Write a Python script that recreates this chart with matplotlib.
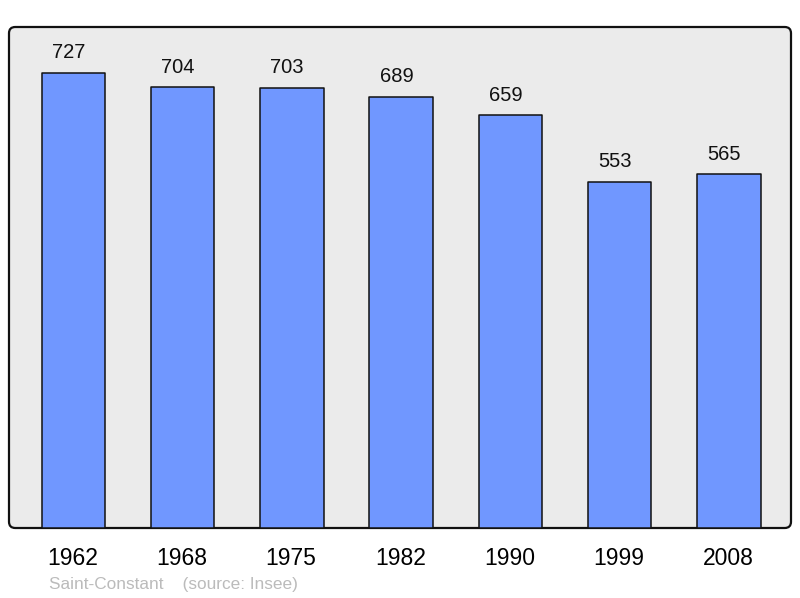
import numpy as np
import matplotlib
matplotlib.use('Agg')
import matplotlib.pyplot as plt
from matplotlib.patches import FancyBboxPatch

years = ['1962', '1968', '1975', '1982', '1990', '1999', '2008']
population = [727, 704, 703, 689, 659, 553, 565]
caption = 'Saint-Constant    (source: Insee)'

plt.rcParams['font.family'] = ['Liberation Sans', 'DejaVu Sans']

fig = plt.figure(figsize=(8, 5.98), dpi=100)
ax = fig.add_axes([9/800, 70/598, 782/800, 501/598])
ax.set_facecolor('none')

# rounded frame drawn behind everything
frame = FancyBboxPatch((0, 0), 1, 1, boxstyle='round,pad=0,rounding_size=0.008',
                       mutation_aspect=782/501, transform=ax.transAxes,
                       facecolor='#ebebeb', edgecolor='#111111', linewidth=1.6,
                       clip_on=False, zorder=0)
ax.add_patch(frame)

x = np.arange(len(years))
ax.bar(x + 0.008, population, width=0.58, color='#7097ff', edgecolor='#111111',
       linewidth=1.1, joinstyle='round', zorder=2)

for xi, v in zip(x, population):
    ax.annotate(str(v), (xi - 0.035, v), xytext=(0, 10.5), textcoords='offset points',
                ha='center', va='baseline', fontsize=14.5, color='#111111')

ax.set_xlim(-0.58, 6.575)
ax.set_ylim(0, 800)
ax.set_xticks(x)
ax.set_xticklabels(years, fontsize=16.5)
ax.tick_params(axis='x', length=0, pad=14)
ax.set_yticks([])
for s in ax.spines.values():
    s.set_visible(False)

fig.text(49/800, 9/598, caption, fontsize=12.4, color='#bbbbbb', va='baseline')

fig.savefig('out.png', dpi=100)
